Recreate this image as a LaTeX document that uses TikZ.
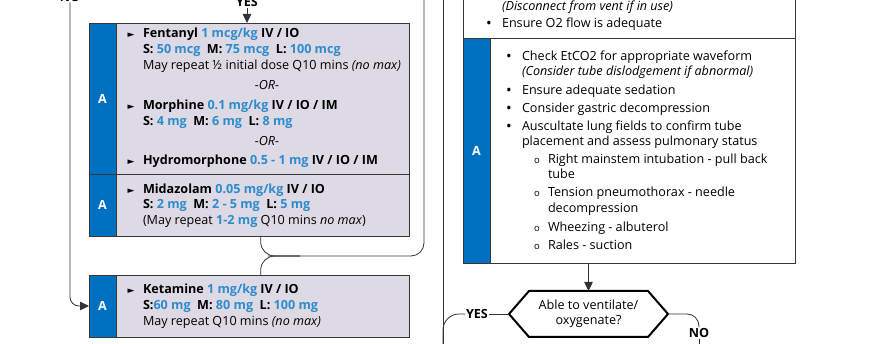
\documentclass[tikz,border=0pt]{standalone}
\usepackage{fontspec}
\setmainfont{Open Sans}
\newfontfamily\symf{DejaVu Sans}
\usetikzlibrary{arrows.meta}
\definecolor{lav}{RGB}{221,217,229}
\definecolor{stripblue}{RGB}{0,112,192}
\definecolor{dose}{RGB}{46,139,204}
\definecolor{edge}{RGB}{55,55,55}
\newcommand\bl[1]{\textcolor{dose}{#1}}
\newcommand\tri{{\symf\fontsize{9}{9}\selectfont ►}}
\newcommand\dotb{{\fontsize{15}{15}\selectfont •}}
\begin{document}
\begin{tikzpicture}[x=1pt,y=-1pt,
 every node/.style={inner sep=0pt, outer sep=0pt},
 txt/.style={anchor=base west, font=\fontsize{12.6}{14}\selectfont},
 ctr/.style={anchor=base, font=\fontsize{12.6}{14}\selectfont},
 boxA/.style={draw=edge, fill=lav, line width=0.9pt, anchor=north west},
 boxW/.style={draw=edge, fill=white, line width=0.9pt, anchor=north west},
 strip/.style={draw=edge, fill=stripblue, line width=0.9pt, anchor=north west, minimum width=27pt, text=white, font=\fontsize{12.6}{14}\selectfont\bfseries},
 conn/.style={draw=black!80, line width=0.8pt},
 arr/.style={conn, -{Triangle[length=9pt,width=8.5pt]}},
 lbl/.style={font=\fontsize{12.6}{14}\selectfont\bfseries, fill=white, inner sep=1pt},
 sub/.style={anchor=base, font=\fontsize{9.5}{9.5}\selectfont},
]
\useasboundingbox (0,0) rectangle (870,344);

% ---- left boxes
\node[boxA, minimum width=320pt, minimum height=151pt] (fen) at (89,23) {};
\node[strip, minimum height=151pt] (fenS) at (89,23) {A};
\node[boxA, minimum width=320pt, minimum height=62pt] (mid) at (89,174) {};
\node[strip, minimum height=62pt] (midS) at (89,174) {A};
\node[boxA, minimum width=320pt, minimum height=62pt] (ket) at (89,275) {};
\node[strip, minimum height=62pt] (ketS) at (89,275) {A};

\node[ctr] (b1) at (131,37.5) {\tri};
\node[txt] (f1) at (143,38) {\bfseries Fentanyl \bl{1 mcg/kg} IV / IO};
\node[txt] (f2) at (143,54) {\bfseries S: \bl{50 mcg}\ \ M: \bl{75 mcg}\ \ L: \bl{100 mcg}};
\node[txt] (f3) at (143,70) {May repeat ½ initial dose Q10 mins \textit{(no max)}};
\node[ctr] (or1) at (267,90) {\textit{-OR-}};
\node[ctr] (b2) at (131,109.5) {\tri};
\node[txt] (m1) at (143,110) {\bfseries Morphine \bl{0.1 mg/kg} IV / IO / IM};
\node[txt] (m2) at (143,126) {\bfseries S: \bl{4 mg}\ \ M: \bl{6 mg}\ \ L: \bl{8 mg}};
\node[ctr] (or2) at (267,146) {\textit{-OR-}};
\node[ctr] (b3) at (131,164.5) {\tri};
\node[txt] (h1) at (143,165) {\bfseries Hydromorphone \bl{0.5 - 1 mg} IV / IO / IM};

\node[ctr] (b4) at (131,193.5) {\tri};
\node[txt] (z1) at (143,194) {\bfseries Midazolam \bl{0.05 mg/kg} IV / IO};
\node[txt] (z2) at (143,209) {\bfseries S: \bl{2 mg}\ \ M: \bl{2 - 5 mg}\ \ L: \bl{5 mg}};
\node[txt] (z3) at (143,225) {(May repeat \bl{\bfseries 1-2 mg} Q10 mins \textit{no max})};

\node[ctr] (b5) at (131,293.5) {\tri};
\node[txt] (k1) at (143,294) {\bfseries Ketamine \bl{1 mg/kg} IV / IO};
\node[txt] (k2) at (143,310) {\bfseries S:\bl{60 mg}\ \ M: \bl{80 mg}\ \ L: \bl{100 mg}};
\node[txt] (k3) at (143,326) {May repeat Q10 mins \textit{(no max)}};

% ---- right boxes
\node[boxW, minimum width=332pt, minimum height=68pt] (top) at (463,-30) {};
\node[txt] (d1) at (502,11) {\textit{(Disconnect from vent if in use)}};
\node[ctr] (db) at (489,29) {\dotb};
\node[txt] (d2) at (502,28) {Ensure O2 flow is adequate};

\node[boxW, minimum width=332pt, minimum height=225pt] (ax) at (463,38) {};
\node[strip, minimum height=225pt] (axS) at (463,38) {A};
\node[ctr] (ab1) at (509,62) {\dotb};
\node[txt] (a1) at (522,61) {Check EtCO2 for appropriate waveform};
\node[txt] (a1b) at (522,76) {\textit{(Consider tube dislodgement if abnormal)}};
\node[ctr] (ab2) at (509,96) {\dotb};
\node[txt] (a2) at (522,95) {Ensure adequate sedation};
\node[ctr] (ab3) at (509,114) {\dotb};
\node[txt] (a3) at (522,113) {Consider gastric decompression};
\node[ctr] (ab4) at (509,132) {\dotb};
\node[txt] (a4) at (522,131) {Auscultate lung fields to confirm tube};
\node[txt] (a4b) at (522,146) {placement and assess pulmonary status};
\node[sub] (sb1) at (537,164) {o};
\node[txt] (s1) at (548,164) {Right mainstem intubation - pull back};
\node[txt] (s1b) at (548,179) {tube};
\node[sub] (sb2) at (537,197) {o};
\node[txt] (s2) at (548,197) {Tension pneumothorax - needle};
\node[txt] (s2b) at (548,213) {decompression};
\node[sub] (sb3) at (537,232) {o};
\node[txt] (s3) at (548,232) {Wheezing - albuterol};
\node[sub] (sb4) at (537,250) {o};
\node[txt] (s4) at (548,250) {Rales - suction};

% ---- decision
\node[minimum width=159pt, minimum height=46pt, align=center, font=\fontsize{12.6}{15}\selectfont] (dec) at (588.5,314) {Able to ventilate/\\oxygenate?};
\draw[line width=2pt, line join=miter] (dec.west) -- ([xshift=20pt]dec.north west) -- ([xshift=-20pt]dec.north east) -- (dec.east) -- ([xshift=-20pt]dec.south east) -- ([xshift=20pt]dec.south west) -- cycle;

% ---- labels
\node[lbl] (yes1) at (247,2.5) {YES};
\node[lbl] (no1) at (70,-3) {NO};
\node[lbl] (yes2) at (477,314) {YES};
\node[lbl] (no2) at (699,333) {NO};

% ---- connectors
\coordinate (r1) at (424,0);
\coordinate (jn) at (268,256);
\coordinate (jn2) at (300,256);
\coordinate (kx) at (260.7,0);
\coordinate (v1) at (443,0);
\coordinate (v2) at (443,344);
\coordinate (n3) at (699,344);

\draw[arr] (yes1.south) -- (fen.north -| yes1);
\draw[arr, rounded corners=9pt] (no1.south) |- (ket.west);
\draw[conn, rounded corners=13pt] (r1) |- (jn);
\draw[conn, rounded corners=14pt] (mid.south -| kx) |- (jn2);
\draw[conn, rounded corners=14pt] (jn2) -| (ket.north -| kx);
\draw[conn] (v1) -- (v2);
\draw[arr] (ax.south -| dec) -- (dec.north);
\draw[conn] (dec.west) -- (yes2.east);
\draw[conn, rounded corners=16pt] (yes2.west) -| (v2);
\draw[conn, rounded corners=12pt] (dec.east) -| (no2.north);
\draw[conn] (no2.south) -- (n3);
\end{tikzpicture}
\end{document}
